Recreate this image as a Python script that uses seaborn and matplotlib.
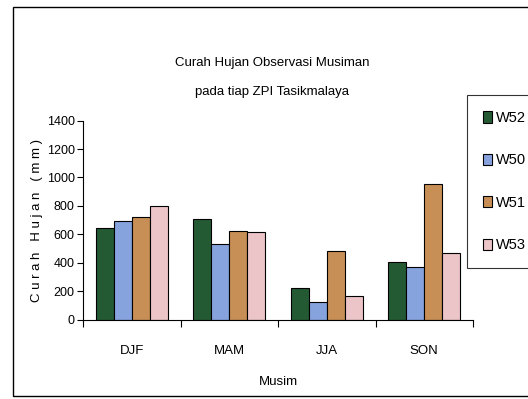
import matplotlib
matplotlib.use("Agg")
import matplotlib.pyplot as plt
from matplotlib import font_manager
from matplotlib.patches import Rectangle, Patch
import seaborn as sns
import pandas as pd

seasons = ["DJF", "MAM", "JJA", "SON"]
stations = ["W52", "W50", "W51", "W53"]
w52 = [641, 705, 219, 402]
w50 = [696, 529, 122, 367]
w51 = [721, 623, 479, 956]
w53 = [801, 613, 167, 468]
colors = ["#245a33", "#86a3dd", "#c78f55", "#ebc5c7"]
yticks = [0, 200, 400, 600, 800, 1000, 1200, 1400]
title_lines = ["Curah Hujan Observasi Musiman", "pada tiap ZPI Tasikmalaya"]

rows = []
for st, vals in zip(stations, [w52, w50, w51, w53]):
    for s, v in zip(seasons, vals):
        rows.append({"Musim": s, "Stasiun": st, "Nilai": v})
df = pd.DataFrame(rows)

sns.set_theme(style="white")
avail = {f.name for f in font_manager.fontManager.ttflist}
fam = "Liberation Sans Narrow" if "Liberation Sans Narrow" in avail else "Liberation Sans"
plt.rcParams["font.family"] = [fam, "DejaVu Sans"]
plt.rcParams["text.color"] = "black"
plt.rcParams["xtick.color"] = "black"
plt.rcParams["ytick.color"] = "black"

fig = plt.figure(figsize=(5.28, 3.99), dpi=100)
ax = fig.add_axes([83 / 528, 1 - 319.5 / 399, 390 / 528, (319.5 - 120.7) / 399])

sns.barplot(data=df, x="Musim", y="Nilai", hue="Stasiun", order=seasons,
            hue_order=stations, palette=colors, saturation=1, width=0.74, ax=ax,
            edgecolor="black", linewidth=0.8, legend=False)

ax.set_xlim(-0.5, 3.5)
ax.set_ylim(0, 1400)
ax.set_yticks(yticks)
ax.set_yticklabels([str(t) for t in yticks], fontsize=9)
ax.set_xticks(range(len(seasons)))
ax.set_xticklabels(seasons, fontsize=9.5)
ax.set_xticks([-0.5, 0.5, 1.5, 2.5, 3.5], minor=True)
ax.tick_params(axis="x", which="major", length=0, pad=18)
ax.tick_params(axis="x", which="minor", length=5, width=0.8, color="black", bottom=True)
ax.tick_params(axis="y", which="major", length=4, width=0.8, color="black", left=True, pad=2)
for sp in ["top", "right"]:
    ax.spines[sp].set_visible(False)
for sp in ["left", "bottom"]:
    ax.spines[sp].set_color("black")
    ax.spines[sp].set_linewidth(0.8)
ax.set_xlabel("")
ax.set_ylabel("")

fig.text(272 / 528, 1 - 63 / 399, title_lines[0], ha="center", va="center", fontsize=9.5)
fig.text(272 / 528, 1 - 92 / 399, title_lines[1], ha="center", va="center", fontsize=9.5)
fig.text(278 / 528, 1 - 382 / 399, "Musim", ha="center", va="center", fontsize=9.5)
fig.text(37 / 528, 1 - 220 / 399, "C u r a h   H u j a n   ( m m )", ha="center", va="center",
         rotation=90, fontsize=9.5)

handles = [Patch(facecolor=c, edgecolor="black", linewidth=0.8) for c in colors]
leg = fig.legend(handles, stations, loc="upper left",
                 bbox_to_anchor=(467 / 528, 1 - 95 / 399), borderaxespad=0,
                 fontsize=10.5, handlelength=0.6, handleheight=0.8, handletextpad=0.3,
                 labelspacing=1.95, borderpad=1.1, fancybox=False, frameon=True)
leg.get_frame().set_edgecolor("black")
leg.get_frame().set_linewidth(0.8)

fig.patches.append(Rectangle((12.5 / 528, 1 - 395.7 / 399), 0.99, (395.7 - 7) / 399,
                             transform=fig.transFigure, fill=False, edgecolor="black",
                             linewidth=1.0))

fig.savefig("out.png", dpi=100)
